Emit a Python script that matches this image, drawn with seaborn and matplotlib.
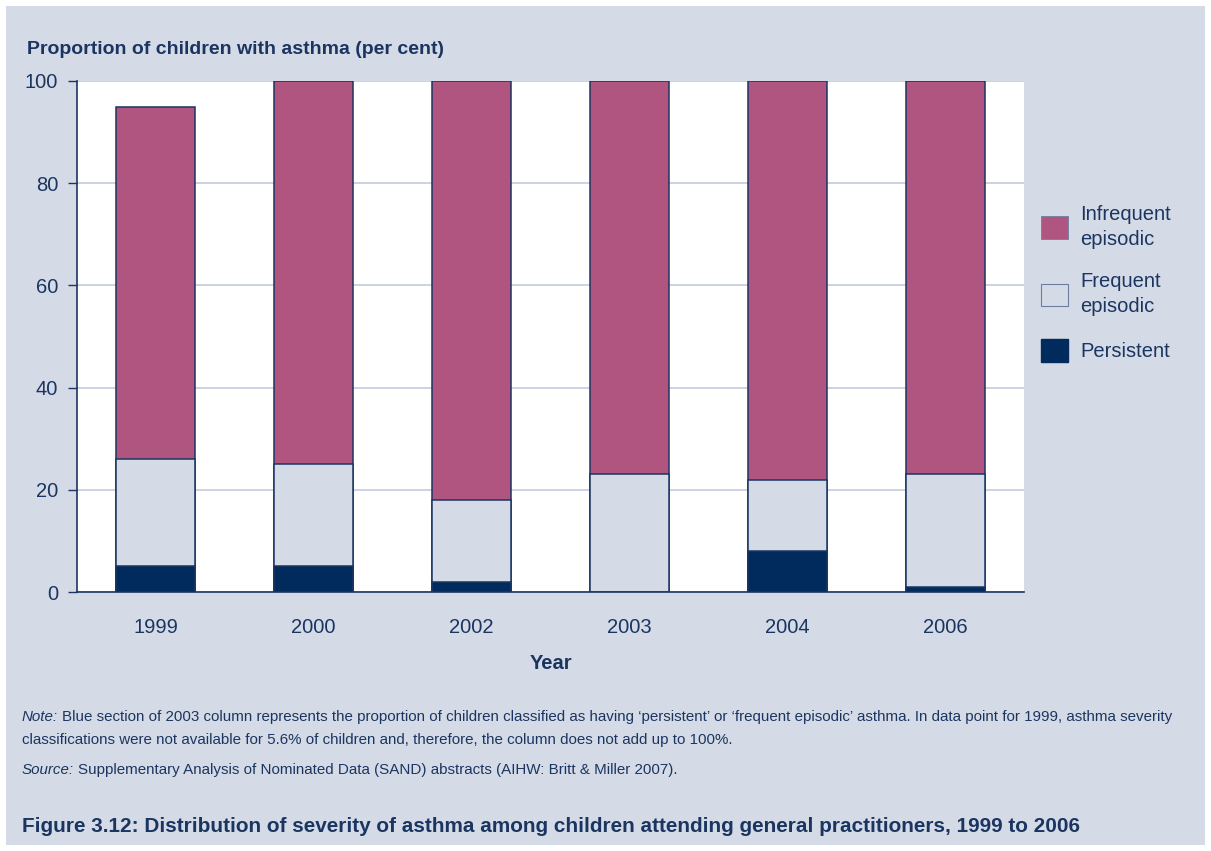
import matplotlib
matplotlib.use("Agg")
import matplotlib.pyplot as plt
import matplotlib.patches as mpatches
import seaborn as sns
import pandas as pd

years = ["1999", "2000", "2002", "2003", "2004", "2006"]
persistent = [5, 5, 2, 0, 8, 1]
frequent = [21, 20, 16, 23, 14, 22]
infrequent = [69, 75, 82, 77, 78, 77]
y_ticks = [0, 20, 40, 60, 80, 100]
series_labels = ["Infrequent\nepisodic", "Frequent\nepisodic", "Persistent"]

NAVY = "#1b3561"
PANEL = "#d5dbe6"
C_INFREQ = "#b05580"
C_FREQ = "#d5dbe6"
C_PERS = "#002b5c"
W, H = 1211, 851

sns.set_theme(style="white")
plt.rcParams["font.family"] = ["Liberation Sans", "DejaVu Sans"]

df = pd.DataFrame({
    "year": years,
    "pers": persistent,
    "freq": frequent,
    "infreq": infrequent,
})
df["lvl1"] = df["pers"]
df["lvl2"] = df["pers"] + df["freq"]
df["lvl3"] = df["pers"] + df["freq"] + df["infreq"]

fig = plt.figure(figsize=(W / 100, H / 100), dpi=100)
fig.patch.set_facecolor("white")
fig.patches.append(mpatches.Rectangle((6 / W, 6 / H), 1 - 12 / W, 1 - 12 / H,
                                      transform=fig.transFigure, facecolor=PANEL,
                                      edgecolor="none", zorder=-10))

ax = fig.add_axes([77 / W, 1 - 592 / H, (1024 - 77) / W, (592 - 81) / H])
ax.set_facecolor("white")

# stacked columns: draw cumulative totals from the top layer down
for col, colour in [("lvl3", C_INFREQ), ("lvl2", C_FREQ), ("lvl1", C_PERS)]:
    sns.barplot(data=df, x="year", y=col, order=years, color=colour, width=0.5,
                edgecolor=NAVY, linewidth=1.1, saturation=1, ax=ax, zorder=3)

ax.set_ylim(0, 100)
ax.set_yticks(y_ticks)
ax.set_yticklabels([str(t) for t in y_ticks], fontsize=14.5, color=NAVY)
ax.tick_params(axis="y", direction="out", length=6.5, width=1, color=NAVY, pad=7, left=True)
ax.tick_params(axis="x", length=0, labelsize=14.5, labelcolor=NAVY, pad=19)
ax.yaxis.grid(True, color="#c3cbdd", linewidth=1.2, zorder=0)
ax.set_axisbelow(True)
for s in ["top", "right"]:
    ax.spines[s].set_visible(False)
ax.spines["left"].set_color(NAVY)
ax.spines["left"].set_linewidth(1.2)
ax.spines["bottom"].set_color(NAVY)
ax.spines["bottom"].set_linewidth(1.2)

ax.set_xlabel("Year", fontsize=14.5, fontweight="bold", color=NAVY, labelpad=12)
ax.set_ylabel("")
fig.text(27 / W, 1 - 49 / H, "Proportion of children with asthma (per cent)",
         fontsize=14, fontweight="bold", color=NAVY, va="center", ha="left")

# legend
handles = [
    mpatches.Patch(facecolor=C_INFREQ, edgecolor="#6a7fa0", linewidth=0.6, label=series_labels[0]),
    mpatches.Patch(facecolor=C_FREQ, edgecolor="#6a7fa0", linewidth=0.8, label=series_labels[1]),
    mpatches.Patch(facecolor=C_PERS, edgecolor=C_PERS, label=series_labels[2]),
]
leg = fig.legend(handles=handles, loc="upper left", bbox_to_anchor=(1041 / W, 1 - 205 / H),
                 frameon=False, fontsize=14.5, labelcolor=NAVY, handlelength=1.35,
                 handleheight=1.35, handletextpad=0.6, labelspacing=1.15,
                 borderpad=0, borderaxespad=0)
for txt in leg.get_texts():
    txt.set_linespacing(1.4)

# footnotes, sized so the long first line spans the panel
renderer = fig.canvas.get_renderer()


def width_px(t):
    return t.get_window_extent(renderer).width


body1 = ("Blue section of 2003 column represents the proportion of children classified as having "
         "\u2018persistent\u2019 or \u2018frequent episodic\u2019 asthma. In data point for 1999, asthma severity")
probe = fig.text(0, 0, body1, fontsize=10)
note_size = 10 * 1119 / width_px(probe)
probe.remove()


def labelled_line(y_px, label, body):
    lab = fig.text(22 / W, 1 - y_px / H, label, fontsize=note_size, style="italic",
                   color=NAVY, va="center")
    x_body = 22 + width_px(lab) + 4
    fig.text(x_body / W, 1 - y_px / H, body, fontsize=note_size, color=NAVY, va="center")


labelled_line(717, "Note:", body1)
fig.text(22 / W, 1 - 740 / H,
         "classifications were not available for 5.6% of children and, therefore, the column does not add up to 100%.",
         fontsize=note_size, color=NAVY, va="center")
labelled_line(770, "Source:",
              "Supplementary Analysis of Nominated Data (SAND) abstracts (AIHW: Britt & Miller 2007).")

title = ("Figure 3.12: Distribution of severity of asthma among children attending "
         "general practitioners, 1999 to 2006")
t = fig.text(22 / W, 1 - 826 / H, title, fontsize=10, fontweight="bold", color=NAVY, va="center")
t.set_fontsize(10 * 1058 / width_px(t))

fig.savefig("out.png", dpi=100, facecolor=fig.get_facecolor())
